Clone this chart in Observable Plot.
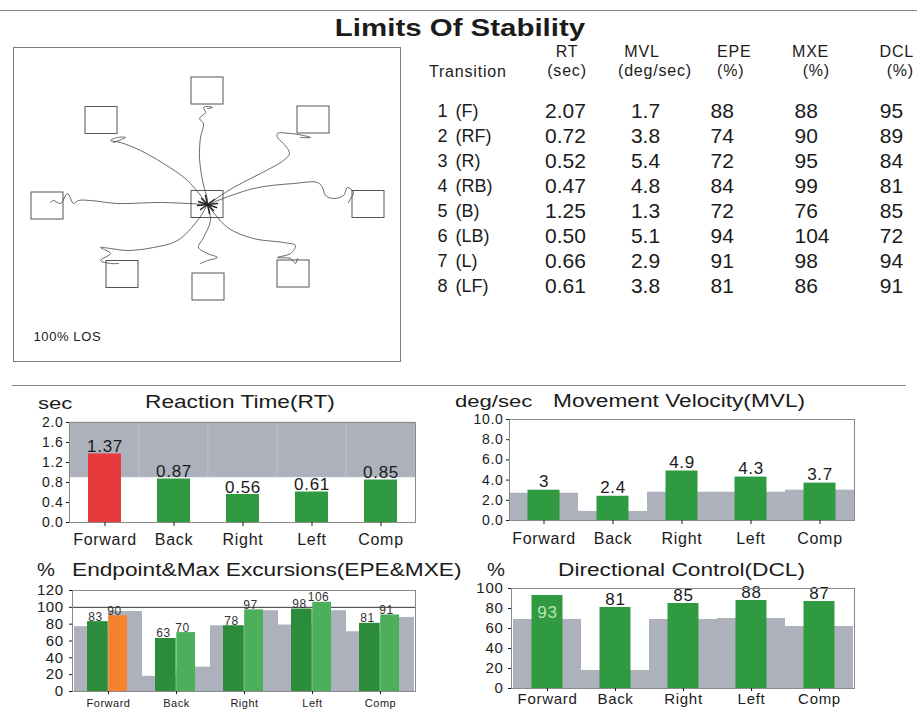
<!DOCTYPE html>
<html><head><meta charset="utf-8">
<script src="https://cdn.jsdelivr.net/npm/d3@7"></script>
<script src="https://cdn.jsdelivr.net/npm/@observablehq/plot@0.6"></script>
<style>
body{margin:0;background:#fff;font-family:'Liberation Sans',Arial,sans-serif;}
#page{position:relative;width:917px;height:709px;overflow:hidden;background:#fff}
.t{position:absolute;white-space:nowrap;color:#1b1b1b;line-height:1}
.hr{position:absolute;height:0;border-top:1px solid #8a8a8a}
</style></head><body><div id="page"></div>
<script>
// ---------------- DATA ----------------
const directions = ["Forward","Back","Right","Left","Comp"];
const rtValues  = [1.37, 0.87, 0.56, 0.61, 0.85];
const rtNorm    = 0.9;
const rtTicks   = [0, 0.4, 0.8, 1.2, 1.6, 2.0];
const mvlValues = [3, 2.4, 4.9, 4.3, 3.7];
const mvlNorm   = [2.7, 0.9, 2.8, 2.8, 3.0];
const mvlTicks  = [0, 2, 4, 6, 8, 10];
const epeValues = [83, 63, 78, 98, 81];
const mxeValues = [90, 70, 97, 106, 91];
const epeNorm   = [77, 18, 78, 79, 71];
const mxeNorm   = [95, 29, 96, 96, 88];
const epeTicks  = [0, 20, 40, 60, 80, 100, 120];
const epeRef    = 100;
const dclValues = [93, 81, 85, 88, 87];
const dclNorm   = [69, 18, 69, 70, 62];
const dclTicks  = [0, 20, 40, 60, 80, 100];

// table
const transitionCodes = ["(F)","(RF)","(R)","(RB)","(B)","(LB)","(L)","(LF)"];
const tableRT  = [2.07, 0.72, 0.52, 0.47, 1.25, 0.50, 0.66, 0.61];
const tableMVL = [1.7, 3.8, 5.4, 4.8, 1.3, 5.1, 2.9, 3.8];
const tableEPE = [88, 74, 72, 84, 72, 94, 91, 81];
const tableMXE = [88, 90, 95, 99, 76, 104, 98, 86];
const tableDCL = [95, 89, 84, 81, 85, 72, 94, 91];

// LOS trace diagram (offsets from centre target, y up)
const targetNames = ["C","F","RF","R","RB","B","LB","L","LF"];
const targetX = [0, 0, 106, 161, 86, 1, -85, -160, -106];
const targetY = [0, 113.5, 84.5, 0, -69.5, -82.5, -70, -1.5, 84];
const traceF  = [[0,0],[0,4],[-5,24],[-8,47],[-7,67],[-4,81],[-8,86],[-2,92],[-4,97],[1,98],[5,97],[0,96]];
const traceRF = [[0,0],[26,17],[53,31],[76,44],[82,51],[76,61],[70,67],[70,71],[83,71],[96,69],[103,67],[93,67]];
const traceR  = [[0,0],[46,16],[86,21],[110,22],[115,17],[118,9],[126,6],[136,9],[140,17],[146,12],[143,6],[141,2]];
const traceRB = [[0,0],[20,-23],[46,-34],[76,-38],[88,-41],[83,-49],[70,-53],[83,-54],[88,-59],[90,-54]];
const traceB  = [[0,0],[3,-16],[-4,-33],[-9,-43],[0,-49],[10,-53],[0,-56],[-7,-59]];
const traceLB = [[0,0],[-10,-16],[-30,-36],[-54,-43],[-80,-46],[-97,-44],[-107,-43],[-97,-49],[-107,-56],[-97,-59],[-89,-59]];
const traceL  = [[0,0],[-47,2],[-90,1],[-117,4],[-129,4],[-134,1],[-140,11],[-147,1],[-154,4],[-157,2]];
const traceLF = [[0,0],[-20,24],[-44,41],[-67,54],[-87,62],[-97,64],[-90,67],[-82,67],[-94,62]];
const centreScribble = [[[-9,3],[9,-3]],[[-7,-5],[7,5]],[[-2,9],[2,-9]],[[-10,-1],[10,1]],[[-6,6],[6,-6]]];

// ---------------- STYLE ----------------
const FONT = "'Liberation Sans', Arial, Helvetica, sans-serif";
const INK = "#1b1b1b";
const GRAY = "#adb1bb", FRAME = "#8a8a8a";
const GREEN = "#2f9a40", DKGREEN = "#2b8c3b", LTGREEN = "#4caf5c", RED = "#e63a3c", ORANGE = "#f5822c";
const st = ls => ({fontFamily: FONT, color: INK, background: "transparent", overflow: "visible", letterSpacing: ls});

const page = document.getElementById("page");
function put(node, left, top){ node.style.position = "absolute"; node.style.left = left + "px"; node.style.top = top + "px"; page.appendChild(node); return node; }
function label(text, x, y, size, {anchor = "start", weight = "normal", sx = 1, ls = 0} = {}) {
  const d = document.createElement("div");
  d.className = "t"; d.textContent = text;
  d.style.fontSize = size + "px"; d.style.fontWeight = weight; d.style.letterSpacing = ls + "px";
  const tx = anchor === "middle" ? "-50%" : anchor === "end" ? "-100%" : "0";
  const origin = anchor === "middle" ? "center" : anchor === "end" ? "right" : "left";
  d.style.left = x + "px"; d.style.top = y + "px";
  d.style.transform = `translate(${tx},-50%) scaleX(${sx})`;
  d.style.transformOrigin = `${origin} center`;
  page.appendChild(d);
}
function hr(x1, x2, y){ const d = document.createElement("div"); d.className = "hr"; d.style.left = x1 + "px"; d.style.width = (x2 - x1) + "px"; d.style.top = y + "px"; page.appendChild(d); }

hr(0, 917, 10);
hr(12, 906, 385);

// ---------------- TITLE + HEADERS ----------------
label("Limits Of Stability", 460, 28, 23, {anchor: "middle", weight: "bold", sx: 1.28});
const H = 16, HL = 0.8;
label("Transition", 429, 72, H, {ls: HL});
label("RT", 567, 52, H, {anchor: "middle", ls: HL});
label("(sec)", 567, 71, H, {anchor: "middle", ls: HL});
label("MVL", 642, 52, H, {anchor: "middle", ls: HL});
label("(deg/sec)", 655, 71, H, {anchor: "middle", ls: HL});
label("EPE", 717, 52, H, {ls: HL});
label("(%)", 717, 71, H, {ls: HL});
label("MXE", 792, 52, H, {ls: HL});
label("(%)", 830, 71, H, {anchor: "end", ls: HL});
label("DCL", 914, 52, H, {anchor: "end", ls: HL});
label("(%)", 914, 71, H, {anchor: "end", ls: HL});

// ---------------- LOS DIAGRAM ----------------
const targets = targetNames.map((n, i) => ({name: n, x: targetX[i], y: targetY[i]}));
const traceList = [["F",traceF],["RF",traceRF],["R",traceR],["RB",traceRB],["B",traceB],["LB",traceLB],["L",traceL],["LF",traceLF]];
const tracePoints = traceList.flatMap(([dir, pts]) => pts.map(([x, y]) => ({dir, x, y})));
const scribblePoints = centreScribble.flatMap((seg, k) => seg.map(([x, y]) => ({k, x, y})));
const HW = 16, HH = 13.5;
const los = Plot.plot({
  width: 387, height: 314, margin: 0, style: st("0.6px"),
  x: {domain: [-194, 193], axis: null},
  y: {domain: [-157, 157], axis: null},
  marks: [
    Plot.frame({stroke: "#7a7a7a"}),
    Plot.rect(targets, {x1: d => d.x - HW, x2: d => d.x + HW, y1: d => d.y - HH, y2: d => d.y + HH, stroke: "#555", strokeWidth: 1, fill: "none"}),
    Plot.line(tracePoints, {x: "x", y: "y", z: "dir", curve: "catmull-rom", stroke: "#444", strokeWidth: 0.8}),
    Plot.line(scribblePoints, {x: "x", y: "y", z: "k", stroke: "#222", strokeWidth: 1.4}),
    Plot.text(["100% LOS"], {frameAnchor: "bottom-left", dx: 20, dy: -21, textAnchor: "start", fontSize: 13, fill: INK})
  ]
});
put(los, 13, 47);

// ---------------- TABLE ----------------
const rows = transitionCodes.map((c, i) => ({num: i + 1, code: c, rt: tableRT[i], mvl: tableMVL[i], epe: tableEPE[i], mxe: tableMXE[i], dcl: tableDCL[i]}));
const table = Plot.plot({
  width: 507, height: 210, margin: 0, style: st("0px"),
  y: {type: "point", domain: transitionCodes, range: [15, 192], padding: 0, axis: null},
  marks: [
    Plot.text(rows, {y: "code", text: d => String(d.num), frameAnchor: "left", dx: 27, textAnchor: "start", fontSize: 18, fill: INK}),
    Plot.text(rows, {y: "code", text: "code", frameAnchor: "left", dx: 45, textAnchor: "start", fontSize: 18, fill: INK}),
    Plot.text(rows, {y: "code", text: d => d.rt.toFixed(2), frameAnchor: "left", dx: 155, textAnchor: "middle", fontSize: 21, fill: INK}),
    Plot.text(rows, {y: "code", text: d => d.mvl.toFixed(1), frameAnchor: "left", dx: 235, textAnchor: "middle", fontSize: 21, fill: INK}),
    Plot.text(rows, {y: "code", text: d => String(d.epe), frameAnchor: "left", dx: 300, textAnchor: "start", fontSize: 21, fill: INK}),
    Plot.text(rows, {y: "code", text: d => String(d.mxe), frameAnchor: "left", dx: 384, textAnchor: "start", fontSize: 21, fill: INK}),
    Plot.text(rows, {y: "code", text: d => String(d.dcl), frameAnchor: "left", dx: 481, textAnchor: "middle", fontSize: 21, fill: INK})
  ]
});
put(table, 410, 95);

// ---------------- CHART TITLES ----------------
const TS = 18, TX = 1.26;
label("sec", 38, 403, 17, {sx: 1.3});
label("Reaction Time(RT)", 145, 402, TS, {sx: TX});
label("deg/sec", 455, 401, 17, {sx: 1.3});
label("Movement Velocity(MVL)", 553, 401, TS, {sx: TX});
label("%", 37, 570, TS, {sx: 1.12});
label("Endpoint&Max Excursions(EPE&MXE)", 72, 570, TS, {sx: TX});
label("%", 487, 570, TS, {sx: 1.12});
label("Directional Control(DCL)", 558, 570, TS, {sx: TX});

// ---------------- RT ----------------
const rtData = directions.map((d, i) => ({dir: d, value: rtValues[i]}));
const rtMax = rtTicks[rtTicks.length - 1];
const rt = Plot.plot({
  width: 430, height: 140, marginLeft: 69, marginRight: 15, marginTop: 12, marginBottom: 28,
  style: st("0.7px"),
  x: {type: "band", domain: directions, padding: 0},
  y: {domain: [0, rtMax]},
  marks: [
    Plot.barY(rtData, {x: "dir", y1: () => rtNorm, y2: () => rtMax, fill: GRAY, stroke: "#c3c7cf", strokeWidth: 0.6}),
    Plot.barY(rtData, {x: "dir", y: "value", fill: d => d.value > rtNorm ? RED : GREEN, insetLeft: 18, insetRight: 18}),
    Plot.text(rtData, {x: "dir", y: "value", text: d => d.value.toFixed(2), lineAnchor: "bottom", dy: -2, fontSize: 17, fill: INK}),
    Plot.frame({stroke: FRAME}),
    Plot.axisY({ticks: rtTicks, tickFormat: d => d.toFixed(1), tickSize: 3, tickPadding: 3, fontSize: 14, label: null}),
    Plot.axisX({tickSize: 4, tickPadding: 7, fontSize: 16, label: null})
  ]
});
put(rt, 0, 410);

// ---------------- MVL ----------------
const mvlData = directions.map((d, i) => ({dir: d, value: mvlValues[i], norm: mvlNorm[i]}));
const mvl = Plot.plot({
  width: 440, height: 143, marginLeft: 69, marginRight: 26, marginTop: 14, marginBottom: 28,
  style: st("0.7px"),
  x: {type: "band", domain: directions, padding: 0},
  y: {domain: [0, mvlTicks[mvlTicks.length - 1]]},
  marks: [
    Plot.barY(mvlData, {x: "dir", y: "norm", fill: GRAY}),
    Plot.barY(mvlData, {x: "dir", y: "value", fill: GREEN, insetLeft: 18.5, insetRight: 18.5}),
    Plot.text(mvlData, {x: "dir", y: "value", text: d => String(d.value), lineAnchor: "bottom", dy: -3, fontSize: 17, fill: INK}),
    Plot.frame({stroke: FRAME}),
    Plot.axisY({ticks: mvlTicks, tickFormat: d => d.toFixed(1), tickSize: 3, tickPadding: 3, fontSize: 14, label: null}),
    Plot.axisX({tickSize: 4, tickPadding: 8, fontSize: 16, label: null})
  ]
});
put(mvl, 440, 405);

// ---------------- EPE & MXE ----------------
const epeData = directions.map((d, i) => ({dir: d, epe: epeValues[i], mxe: mxeValues[i], epeN: epeNorm[i], mxeN: mxeNorm[i]}));
const EW = 430, EML = 72, EMR = 15;
const HALF = (EW - EML - EMR) / directions.length / 2;
const epe = Plot.plot({
  width: EW, height: 129, marginLeft: EML, marginRight: EMR, marginTop: 10, marginBottom: 18,
  style: st("0.5px"),
  x: {type: "band", domain: directions, padding: 0},
  y: {domain: [0, epeTicks[epeTicks.length - 1]]},
  marks: [
    Plot.barY(epeData, {x: "dir", y: "epeN", fill: GRAY, insetRight: HALF}),
    Plot.barY(epeData, {x: "dir", y: "mxeN", fill: GRAY, insetLeft: HALF}),
    Plot.ruleY([epeRef], {stroke: "#333", strokeWidth: 1}),
    Plot.barY(epeData, {x: "dir", y: "epe", fill: DKGREEN, insetLeft: 13, insetRight: HALF}),
    Plot.barY(epeData, {x: "dir", y: "mxe", fill: d => d.mxe < d.mxeN ? ORANGE : LTGREEN, insetLeft: HALF, insetRight: 15}),
    Plot.text(epeData, {x: "dir", y: "epe", text: d => String(d.epe), lineAnchor: "bottom", dx: -13, dy: -1, fontSize: 12, fill: "#333"}),
    Plot.text(epeData, {x: "dir", y: "mxe", text: d => String(d.mxe), lineAnchor: "bottom", dx: 6, dy: -1, fontSize: 12, fill: "#333"}),
    Plot.frame({stroke: FRAME}),
    Plot.axisY({ticks: epeTicks, tickFormat: d => String(d), tickSize: 3, tickPadding: 6, fontSize: 15, label: null}),
    Plot.axisX({tickSize: 3, tickPadding: 5, fontSize: 11, label: null})
  ]
});
put(epe, 0, 580);

// ---------------- DCL ----------------
const dclData = directions.map((d, i) => ({dir: d, value: dclValues[i], norm: dclNorm[i]}));
const dclTop = dclTicks[dclTicks.length - 1];
const labelInside = d => d.value > dclTop - 10;
const dcl = Plot.plot({
  width: 440, height: 134, marginLeft: 71, marginRight: 26, marginTop: 13, marginBottom: 21,
  style: st("0.7px"),
  x: {type: "band", domain: directions, padding: 0},
  y: {domain: [0, dclTop]},
  marks: [
    Plot.barY(dclData, {x: "dir", y: "norm", fill: GRAY}),
    Plot.barY(dclData, {x: "dir", y: "value", fill: GREEN, insetLeft: 18.5, insetRight: 18.5}),
    Plot.text(dclData.filter(d => !labelInside(d)), {x: "dir", y: "value", text: d => String(d.value), lineAnchor: "bottom", dy: -3, fontSize: 17, fill: INK}),
    Plot.text(dclData.filter(labelInside), {x: "dir", y: "value", text: d => String(d.value), lineAnchor: "middle", dy: 17, fontSize: 17, fill: "#bfe3b9"}),
    Plot.frame({stroke: FRAME}),
    Plot.axisY({ticks: dclTicks, tickFormat: d => String(d), tickSize: 3, tickPadding: 5, fontSize: 15, label: null}),
    Plot.axisX({tickSize: 3, tickPadding: 2, fontSize: 15, label: null})
  ]
});
put(dcl, 440, 575);
</script></body></html>
